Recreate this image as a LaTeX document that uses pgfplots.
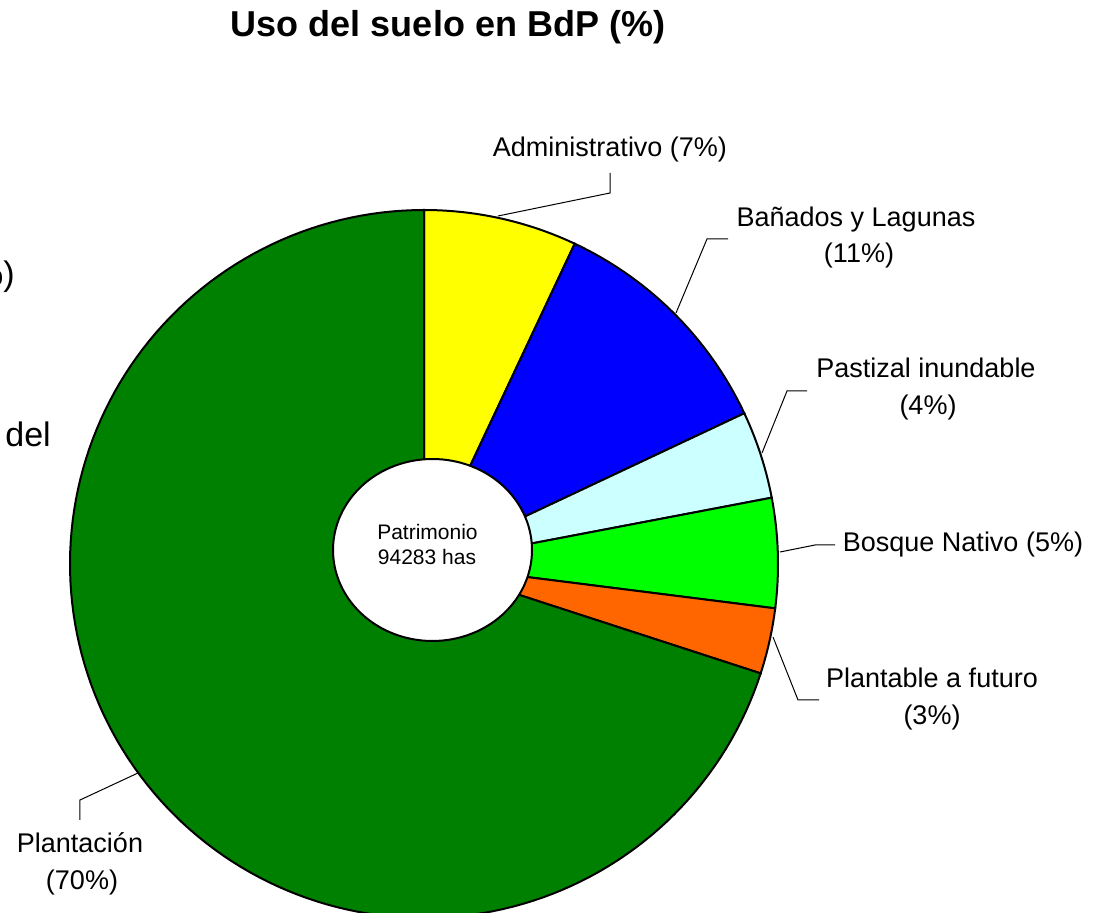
\documentclass[border=0pt]{standalone}
\usepackage{pgfplots}
\pgfplotsset{compat=1.18}
\usepackage{fontspec}
\setmainfont{Liberation Sans}
\definecolor{cPlant}{HTML}{008000}
\definecolor{cAdm}{HTML}{FFFF00}
\definecolor{cBan}{HTML}{0000FF}
\definecolor{cPas}{HTML}{CCFFFF}
\definecolor{cBos}{HTML}{00FF00}
\definecolor{cFut}{HTML}{FF6600}
% slice: colour, start %, end % (clockwise from the top)
\newcommand{\slice}[3]{%
  \addplot[draw=black, line width=1pt, fill=#1, mark=none,
    domain={90-3.6*#3}:{90-3.6*#2}, samples=150, variable=\t]
    ({424+354*cos(\t)},{564-354*sin(\t)}) -- (axis cs:424,564) -- cycle;}
\newcommand{\lab}{\fontsize{13.5}{16}\selectfont}
\begin{document}
\begin{tikzpicture}
\begin{axis}[
  at={(0,0)}, anchor=south west,
  scale only axis, width=551.5pt, height=456.5pt,
  xmin=0, xmax=1103, ymin=0, ymax=913, y dir=reverse,
  hide axis, clip=false]
% Values (%): Administrativo 7, Banados y Lagunas 11, Pastizal inundable 4,
% Bosque Nativo 5, Plantable a futuro 3, Plantacion 70
\slice{cAdm}{0}{7}
\slice{cBan}{7}{18}
\slice{cPas}{18}{22}
\slice{cBos}{22}{27}
\slice{cFut}{27}{30}
\slice{cPlant}{30}{100}
% centre hole
\addplot[draw=black, line width=1pt, fill=white, mark=none,
  domain=0:360, samples=120, variable=\t]
  ({432.5+99.5*cos(\t)},{550+91*sin(\t)}) -- cycle;
\node[anchor=base, font=\fontsize{10.5}{12}\selectfont] at (axis cs:427.5,540) {Patrimonio};
\node[anchor=base, font=\fontsize{10.5}{12}\selectfont] at (axis cs:427,565) {94283 has};
% leader lines
\addplot[black, line width=0.5pt, mark=none] coordinates {(610,173) (610,193) (498,216)};
\addplot[black, line width=0.5pt, mark=none] coordinates {(728,239) (707,239) (676,313)};
\addplot[black, line width=0.5pt, mark=none] coordinates {(807,391) (787,391) (762,453)};
\addplot[black, line width=0.5pt, mark=none] coordinates {(835,545) (815,545) (780,552)};
\addplot[black, line width=0.5pt, mark=none] coordinates {(819,700) (798,700) (773,637)};
\addplot[black, line width=0.5pt, mark=none] coordinates {(80,820) (80,800) (138,773)};
% labels
\node[anchor=base, font=\lab] at (axis cs:610,157) {Administrativo (7\%)};
\node[anchor=base, font=\lab] at (axis cs:856,227) {Bañados y Lagunas};
\node[anchor=base, font=\lab] at (axis cs:859,263) {(11\%)};
\node[anchor=base, font=\lab] at (axis cs:926,378) {Pastizal inundable};
\node[anchor=base, font=\lab] at (axis cs:928,415) {(4\%)};
\node[anchor=base, font=\lab] at (axis cs:963,552) {Bosque Nativo (5\%)};
\node[anchor=base, font=\lab] at (axis cs:932,688) {Plantable a futuro};
\node[anchor=base, font=\lab] at (axis cs:932,725) {(3\%)};
\node[anchor=base, font=\lab] at (axis cs:80,852) {Plantación};
\node[anchor=base, font=\lab] at (axis cs:82,889) {(70\%)};
% title
\node[anchor=base, font=\fontsize{18}{21}\selectfont\bfseries] at (axis cs:448,37) {Uso del suelo en BdP (\%)};
% fragments of a neighbouring chart at the left edge
\node[anchor=base east, inner sep=0pt, font=\fontsize{17}{20}\selectfont] at (axis cs:15,286) {(\%)};
\node[anchor=base west, inner sep=0pt, font=\fontsize{17}{20}\selectfont] at (axis cs:5,447) {del};
\end{axis}
\pgfresetboundingbox
\path[use as bounding box] (0,0) rectangle (551.5pt,456.5pt);
\end{tikzpicture}
\end{document}
